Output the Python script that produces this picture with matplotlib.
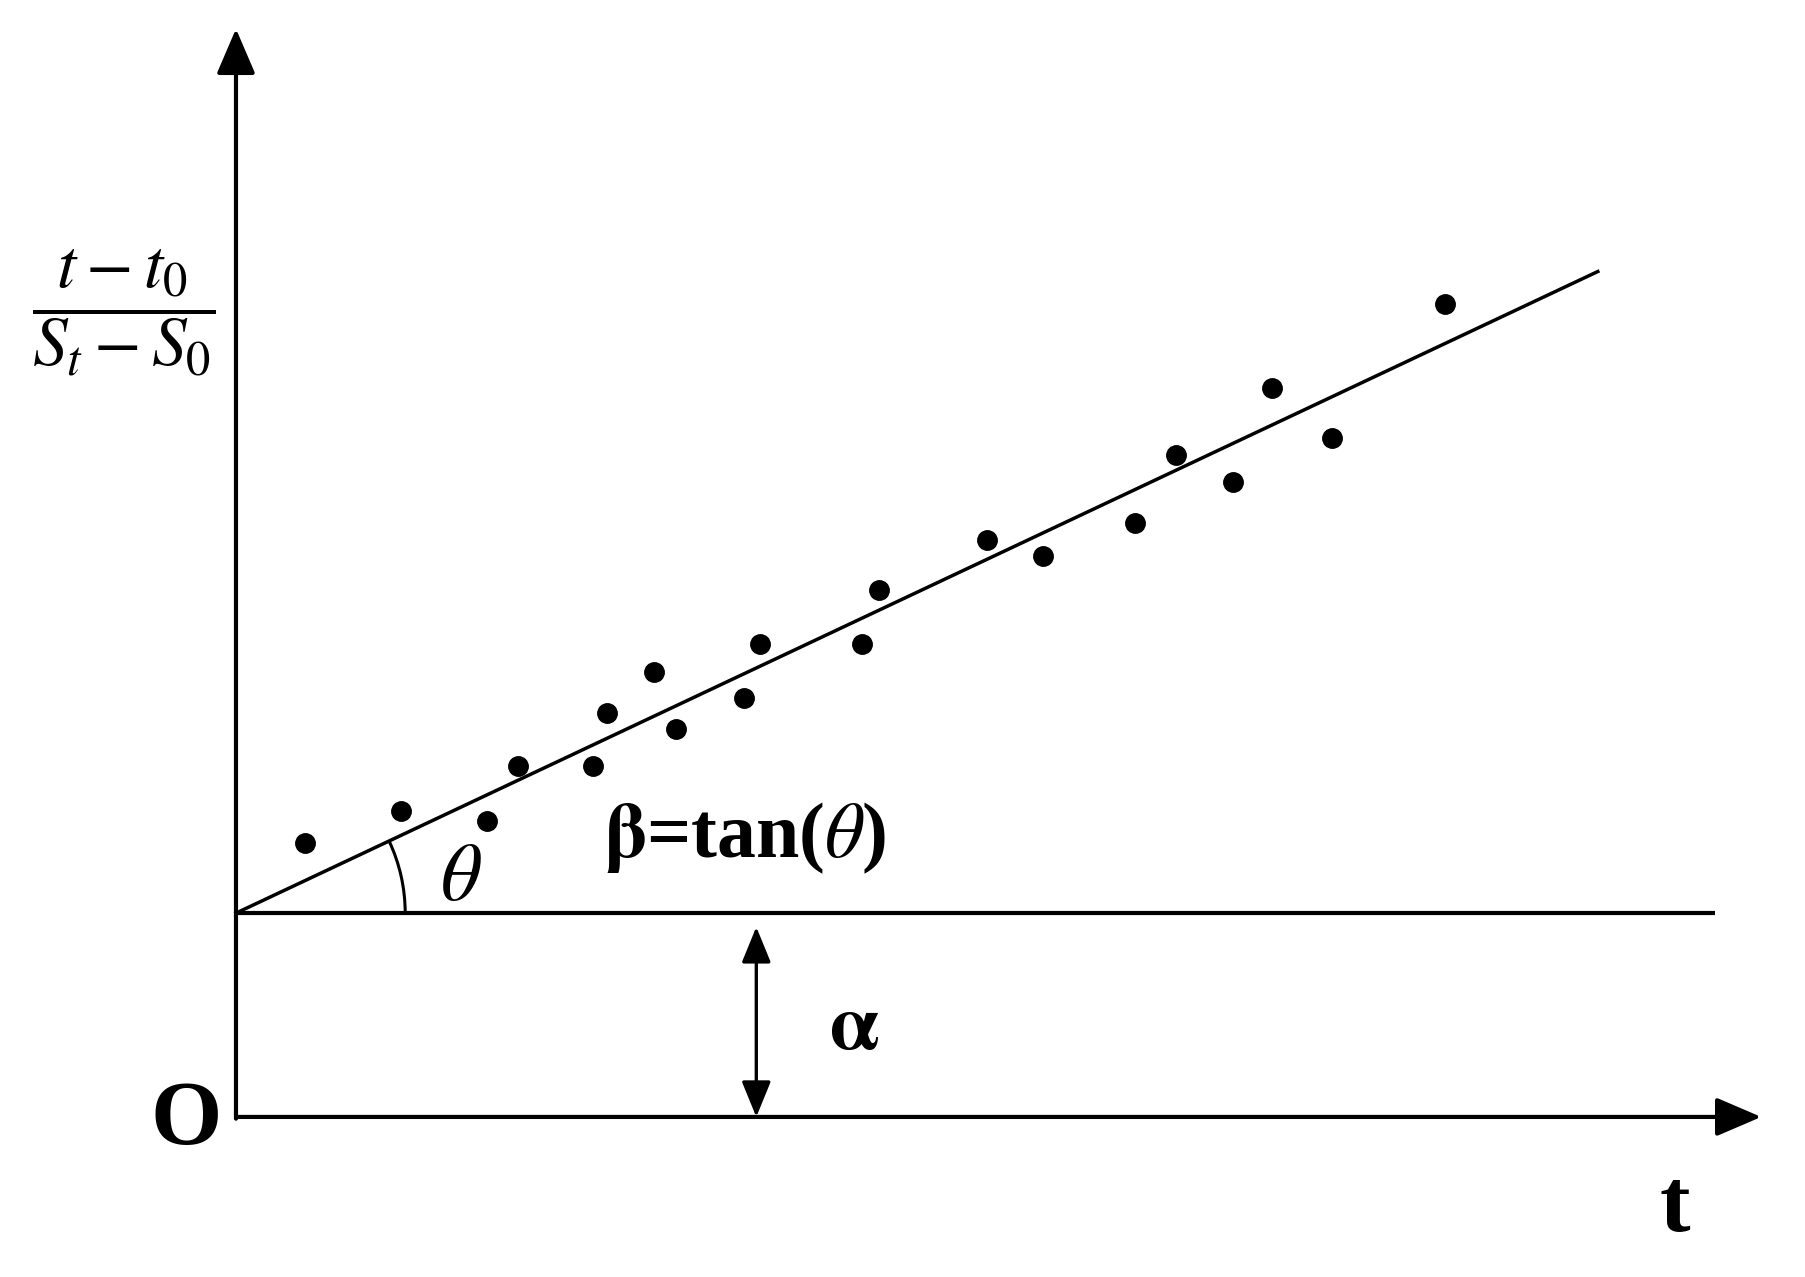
import matplotlib
matplotlib.use("Agg")
import matplotlib.pyplot as plt
from matplotlib.patches import Arc
import numpy as np

plt.rcParams['mathtext.fontset'] = 'stix'
plt.rcParams['font.family'] = ['Liberation Serif', 'DejaVu Serif']

# data (t, (t-t0)/(St-S0)) in arbitrary units
t_vals = [0.60, 1.43, 2.18, 2.45, 3.10, 3.22, 3.63, 3.82, 4.41, 4.55,
          5.44, 5.59, 6.52, 7.01, 7.81, 8.17, 8.66, 9.00, 9.52, 10.50]
y_vals = [2.38, 2.66, 2.57, 3.05, 3.05, 3.51, 3.86, 3.37, 3.64, 4.11,
          4.11, 4.58, 5.01, 4.87, 5.16, 5.75, 5.51, 6.33, 5.90, 7.06]
alpha = 1.77
beta = 0.471
line_end = 11.83
baseline_end = 12.85
alpha_arrow_x = 4.52

fig = plt.figure(figsize=(18.05, 12.77), dpi=100)
ax = fig.add_axes([0, 0, 1, 1])
ax.set_xlim(-2.05, 13.63)
ax.set_ylim(-1.39, 9.70)
ax.axis('off')

AX_LW = 3.0
# axes arrows
ax.annotate('', xy=(13.25, 0), xytext=(0, 0),
            arrowprops=dict(arrowstyle='-|>,head_length=1.4,head_width=0.6',
                            mutation_scale=20, lw=AX_LW, color='black',
                            shrinkA=0, shrinkB=0))
ax.annotate('', xy=(0, 9.45), xytext=(0, -0.015),
            arrowprops=dict(arrowstyle='-|>,head_length=1.4,head_width=0.6',
                            mutation_scale=20, lw=AX_LW, color='black',
                            shrinkA=0, shrinkB=0))

# baseline alpha
ax.plot([0, baseline_end], [alpha, alpha], color='black', lw=AX_LW, solid_capstyle='butt')

# fitted line
xs = np.array([0, line_end])
ax.plot(xs, alpha + beta * xs, color='black', lw=2.5)

# points
ax.plot(t_vals, y_vals, 'o', color='black', markersize=14)

# angle arc
theta_deg = np.degrees(np.arctan(beta))
ax.add_patch(Arc((0, alpha), 2 * 1.47, 2 * 1.47, theta1=0, theta2=theta_deg,
                 color='black', lw=2.2))

# alpha double arrow
ax.annotate('', xy=(alpha_arrow_x, 0.0), xytext=(alpha_arrow_x, alpha - 0.12),
            arrowprops=dict(arrowstyle='<|-|>,head_length=1.1,head_width=0.45',
                            mutation_scale=20, lw=2.4, color='black',
                            shrinkA=0, shrinkB=0))

# texts
ax.text(5.37, 0.75, r'$\mathbf{\alpha}$', fontsize=56, ha='center', va='center')
ax.text(4.42, 2.42, r'$\mathbf{\beta}$=tan($\theta$)', fontsize=56, fontweight='bold',
        ha='center', va='center')
ax.text(1.95, 2.05, r'$\theta$', fontsize=58, ha='center', va='center')
ax.text(-0.43, -0.04, 'O', fontsize=66, fontweight='bold', ha='center', va='center')
ax.text(12.50, -0.80, 't', fontsize=66, fontweight='bold', ha='center', va='center')
ax.text(-0.98, 6.98, r'$\dfrac{t-t_0}{S_t-S_0}$', fontsize=50, ha='center', va='center')

fig.savefig('out.png', dpi=100)
